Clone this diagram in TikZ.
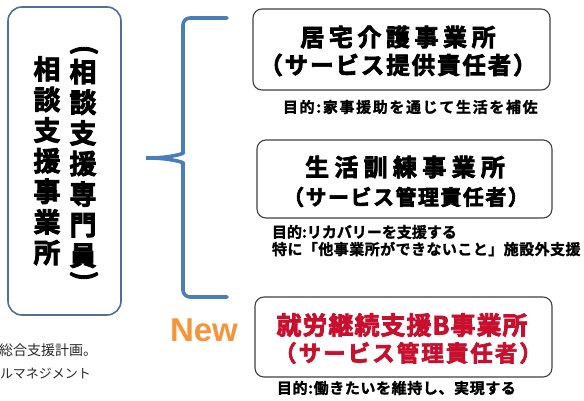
\documentclass[tikz,border=0pt]{standalone}
\usepackage{fontspec}
\setmainfont{Liberation Sans}
\newfontfamily\jp{Noto Sans CJK JP}[BoldFont={Noto Sans CJK JP Bold}]
\newfontfamily\jpheavy{Noto Sans CJK JP Bold}[FakeBold=3]
\newfontfamily\jpmid{Noto Sans CJK JP Bold}[FakeBold=1.5]
\definecolor{leftblue}{RGB}{79,110,160}
\definecolor{braceblue}{RGB}{74,126,187}
\definecolor{boxgray}{RGB}{64,64,64}
\definecolor{titlered}{RGB}{200,16,46}
\definecolor{neworange}{RGB}{245,148,58}
\definecolor{notegray}{RGB}{40,40,40}
\tikzset{
  every node/.style={inner sep=0pt, outer sep=0pt},
  leftbox/.style={draw=leftblue, line width=1.6pt, rounded corners=14pt},
  svcbox/.style={draw=boxgray, line width=1.1pt, rounded corners=9pt},
  vtext/.style={align=center, font=\jpheavy\fontsize{27}{30.6}\selectfont},
  vpar/.style={rotate=-90, font=\jpheavy\fontsize{27}{30}\selectfont},
  brace/.style={draw=braceblue, line width=3.6pt, line cap=round, rounded corners=7pt},
  subtext/.style={anchor=west, font=\jpmid\fontsize{15}{16}\selectfont},
  notetext/.style={anchor=west, text=notegray, font=\jp\fontsize{14}{16}\selectfont},
}
\begin{document}
\begin{tikzpicture}[x=1pt,y=-1pt]
\useasboundingbox (0,0) rectangle (584,401);
% left box
\node[leftbox, minimum width=113pt, minimum height=308pt] (lbox) at (64.5,161) {};
\node[vpar] (pl) at (84,50) {(};
\node[vtext] (col2) at (83,163.5) {相\\談\\支\\援\\専\\門\\員};
\node[vpar] (pr) at (84,276) {)};
\node[vtext] (col1) at (47,160.7) {相\\談\\支\\援\\事\\業\\所};
% brace
\coordinate (bt) at (227,18);
\coordinate (bb) at (227,297);
\coordinate (bm) at (142,158);
\draw[brace] (bt) -- (183,18) -- (183,146) .. controls (183,154) and (168,158) .. (bm)
  .. controls (168,158) and (183,162) .. (183,170) -- (183,297) -- (bb);
% box 1
\node[svcbox, minimum width=297pt, minimum height=81pt] (b1) at (401.5,49.5) {};
\node[font=\jpheavy\fontsize{24}{26}\selectfont\addfontfeature{LetterSpace=19}] (b1t) at (398,37) {居宅介護事業所};
\node[font=\jpheavy\fontsize{23.5}{26}\selectfont\addfontfeature{LetterSpace=8}] (b1s) at (398,65) {（サービス提供責任者）};
\node[subtext, font=\jpmid\fontsize{15}{16}\selectfont\addfontfeature{LetterSpace=11}] (b1n) at (283,107) {目的:家事援助を通じて生活を補佐};
% box 2
\node[svcbox, minimum width=295pt, minimum height=78pt] (b2) at (404.5,179) {};
\node[font=\jpheavy\fontsize{24}{26}\selectfont\addfontfeature{LetterSpace=22}] (b2t) at (405,167) {生活訓練事業所};
\node[font=\jpheavy\fontsize{21}{24}\selectfont\addfontfeature{LetterSpace=7}] (b2s) at (406,197) {（サービス管理責任者）};
\node[subtext] (b2n) at (272,232) {目的:リカバリーを支援する};
\node[subtext, font=\jpmid\fontsize{15}{16}\selectfont\addfontfeature{LetterSpace=3}] (b2m) at (272,249) {特に「他事業所ができないこと」施設外支援};
% box 3
\node[svcbox, minimum width=297pt, minimum height=80pt] (b3) at (403.5,337) {};
\node[text=titlered, font=\jpheavy\fontsize{25}{27}\selectfont\addfontfeature{LetterSpace=4}] (b3t) at (402,325) {就労継続支援B事業所};
\node[text=titlered, font=\jpheavy\fontsize{22.5}{25}\selectfont\addfontfeature{LetterSpace=9}] (b3s) at (408,353) {（サービス管理責任者）};
\node[subtext, font=\jpmid\fontsize{15}{16}\selectfont\addfontfeature{LetterSpace=4}] (b3n) at (277,388) {目的:働きたいを維持し、実現する};
% New
\node[text=neworange, font=\bfseries\fontsize{33}{36}\selectfont] (new) at (204,330) {New};
% bottom-left notes
\node[notetext] (n1) at (-1,350) {総合支援計画。};
\node[notetext, font=\jp\fontsize{13}{15}\selectfont] (n2) at (0,374) {ルマネジメント};
\end{tikzpicture}
\end{document}
